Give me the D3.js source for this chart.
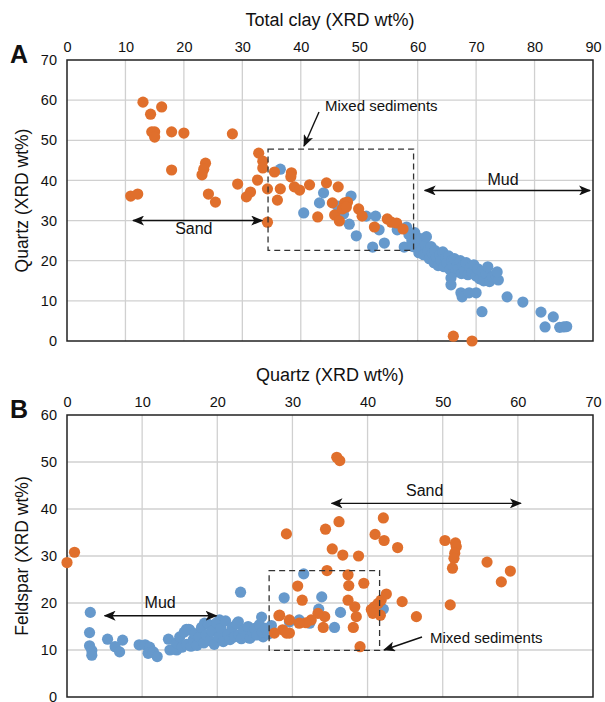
<!DOCTYPE html>
<html lang="en">
<head>
<meta charset="UTF-8">
<title>XRD crossplots</title>
<script src="https://d3js.org/d3.v7.min.js"></script>
<style>
  body { margin: 0; background: #fff; }
  svg { font-family: "Liberation Sans", Arial, sans-serif; }
</style>
</head>
<body>
<div id="chart"></div>
<script>
// Panel A: total clay (x) vs quartz (y)
const aTicksX = [0, 10, 20, 30, 40, 50, 60, 70, 80, 90];
const aTicksY = [0, 10, 20, 30, 40, 50, 60, 70];
const aOrange = [
  [13.0, 59.5], [16.2, 58.3], [14.3, 56.5], [14.5, 52.1], [15.0, 52.1], [15.0, 50.8],
  [17.9, 52.1], [20.0, 51.8], [28.3, 51.6], [17.9, 42.6], [23.7, 44.3], [23.4, 42.8],
  [23.1, 41.4], [24.2, 36.6], [25.4, 34.6], [10.9, 36.1], [12.1, 36.6], [32.8, 46.8],
  [33.5, 44.8], [33.5, 43.1], [32.6, 40.1], [29.2, 39.1], [31.4, 37.1], [30.7, 35.9],
  [34.3, 37.9], [35.5, 42.1], [36.5, 37.9], [36.0, 35.1], [34.3, 29.6], [38.4, 41.9],
  [38.3, 40.9], [38.9, 38.4], [39.8, 37.6], [41.5, 38.9], [44.4, 39.4], [46.4, 38.4],
  [42.9, 30.9], [45.4, 34.4], [45.8, 31.4], [46.6, 29.9], [47.5, 34.4], [48.0, 34.6],
  [47.1, 32.9], [47.8, 33.4], [49.9, 32.9], [50.5, 31.1], [52.6, 28.4], [54.8, 30.4],
  [55.5, 29.6], [56.4, 29.4], [57.5, 27.9], [66.1, 1.2], [69.3, 0.0]
];
const aBlue = [
  [36.5, 42.8], [40.5, 31.9], [43.9, 36.9], [43.2, 34.4], [46.3, 33.6], [47.3, 31.6],
  [48.6, 36.1], [48.3, 29.1], [49.5, 26.2], [51.2, 31.1], [52.8, 31.1], [53.4, 27.7],
  [52.3, 23.4], [54.3, 24.4], [56.5, 27.7], [58.1, 28.4], [57.7, 23.4],
  [58.5, 26.5], [59, 25], [59.2, 23.5], [59.5, 27], [60, 24.5], [60.2, 22], [60.5, 25.5],
  [60.8, 23], [61, 21.5], [61.3, 24], [61.5, 26], [61.8, 22.5], [62, 20.5], [62.3, 23.5],
  [62.5, 21.8], [62.8, 19.5], [63, 22.5], [63.2, 20.8], [63.5, 18.8], [63.8, 21.5],
  [64, 20], [64.3, 22.2], [64.5, 18.5], [64.8, 20.8], [65, 19.5], [65.3, 21.2],
  [65.5, 17.8], [65.8, 20], [66, 18.8], [66.3, 20.5], [66.5, 17.2], [66.8, 19.2],
  [67, 18], [67.3, 20], [67.5, 16.8], [67.8, 18.8], [68, 17.5], [68.3, 19.5],
  [68.6, 16.5], [69, 18.3], [69.3, 17], [69.6, 19], [70, 16.2], [70.3, 18], [70.6, 15.5],
  [71, 17.3], [71.3, 15], [71.7, 16.8], [72, 18.5], [72.3, 14.8], [72.8, 16], [73.3, 16.5],
  [73.8, 15.2], [65.7, 15.7], [65.7, 14.0], [67.4, 12.0], [67.6, 11.0], [68.8, 12.0],
  [70.0, 12.0], [71.0, 7.3], [73.6, 17.2], [75.3, 11.0], [78.0, 9.7], [81.1, 7.2],
  [81.8, 3.5], [83.2, 6.0], [84.3, 3.4], [85.0, 3.5], [85.5, 3.6]
];

// Panel B: quartz (x) vs feldspar (y)
const bTicksX = [0, 10, 20, 30, 40, 50, 60, 70];
const bTicksY = [0, 10, 20, 30, 40, 50, 60];
const bOrange = [
  [0.0, 28.6], [1.0, 30.8], [35.9, 51.0], [36.3, 50.3], [29.2, 34.7], [34.4, 35.7],
  [36.2, 37.3], [42.1, 38.1], [41.0, 34.6], [42.2, 33.3], [44.0, 31.8], [35.3, 31.5],
  [36.7, 30.2], [38.8, 30.0], [34.6, 26.9], [37.4, 26.0], [37.5, 23.7], [39.5, 24.2],
  [30.7, 23.6], [31.3, 20.6], [37.4, 20.6], [38.3, 19.2], [38.5, 17.1], [38.1, 14.8],
  [39.0, 10.7], [40.5, 18.6], [40.9, 19.2], [41.4, 19.9], [41.8, 20.6], [42.5, 21.9],
  [40.7, 17.8], [41.7, 17.4], [44.6, 20.3], [46.5, 17.1], [50.3, 33.3], [51.7, 32.8],
  [51.8, 32.0], [51.6, 30.6], [51.5, 29.5], [51.3, 27.4], [51.0, 19.6], [55.9, 28.7],
  [59.0, 26.8], [57.8, 24.5], [34.3, 17.1], [33.4, 17.8], [32.5, 16.4], [31.8, 15.8],
  [30.9, 15.7], [29.6, 16.4], [28.3, 17.4], [28.7, 14.3], [27.6, 13.6], [29.6, 13.6],
  [28.2, 17.3], [29.2, 13.6], [34.1, 14.8]
];
const bBlue = [
  [3.1, 18.0], [3.0, 13.7], [3.0, 10.9], [3.3, 9.9], [3.3, 8.9], [5.4, 12.3], [6.4, 10.7],
  [7.0, 9.6], [7.4, 12.1], [9.6, 11.1], [10.4, 11.1], [11.0, 10.6], [10.8, 9.3],
  [11.5, 9.6], [12.0, 8.6], [13.5, 12.3], [13.7, 10.0], [14.6, 10.0], [15.9, 14.4],
  [16.3, 14.3], [18.3, 15.7], [20.3, 16.4], [22.8, 16.0], [23.1, 22.3], [25.9, 17.0],
  [28.9, 21.1], [31.5, 26.2], [33.9, 21.3], [33.5, 18.7], [36.4, 18.0], [35.6, 14.8],
  [42.1, 18.7], [30.9, 16.4], [29.6, 16.0], [32.3, 15.7], [26.1, 12.8], [25.2, 13.6],
  [24.3, 12.5], [14.2, 10.2], [14.6, 11.5], [15, 12.8], [15.3, 10.6], [15.6, 13.8],
  [15.9, 11.2], [16.2, 14.4], [16.5, 10.8], [16.8, 12.2], [17, 13.5], [17.3, 11],
  [17.6, 12.8], [17.9, 14.8], [18.2, 11.5], [18.5, 13.2], [18.8, 15.5], [19, 12],
  [19.3, 14], [19.6, 11.2], [19.9, 15.8], [20.2, 12.8], [20.5, 14.6], [20.8, 11.8],
  [21.1, 16.2], [21.4, 13.4], [21.7, 12.2], [22, 14.8], [22.3, 12.8], [22.6, 15.6],
  [22.9, 13.2], [23.2, 12.4], [23.5, 14.2], [23.8, 13], [24.1, 15], [24.4, 12.6],
  [24.7, 13.8], [25, 14.6], [25.3, 13.2], [25.6, 15.4], [26, 13.8], [26.4, 14.6],
  [26.8, 13.4], [27.2, 15.2]
];

const ORANGE = "#e06f2c", BLUE = "#6699cc";

const svg = d3.select("#chart").append("svg")
  .attr("width", 605).attr("height", 702);

const defs = svg.append("defs");
defs.append("marker")
  .attr("id", "head")
  .attr("viewBox", "0 0 12 10")
  .attr("refX", 11).attr("refY", 5)
  .attr("markerWidth", 12).attr("markerHeight", 10)
  .attr("markerUnits", "userSpaceOnUse")
  .attr("orient", "auto-start-reverse")
  .append("path")
  .attr("d", "M0,0 L12,5 L0,10 L3,5 Z")
  .attr("fill", "#111");

function panel(cfg) {
  const x = d3.scaleLinear().domain(cfg.xDomain).range([67, 593]);
  const y = d3.scaleLinear().domain(cfg.yDomain).range([cfg.bottom, cfg.top]);
  const g = svg.append("g");

  // grid
  g.append("g").selectAll("line").data(cfg.ticksX.slice(1, -1)).join("line")
    .attr("x1", d => x(d)).attr("x2", d => x(d))
    .attr("y1", cfg.top).attr("y2", cfg.bottom)
    .attr("stroke", "#d0d0d0").attr("stroke-width", 1.3);
  g.append("g").selectAll("line").data(cfg.ticksY.slice(1, -1)).join("line")
    .attr("y1", d => y(d)).attr("y2", d => y(d))
    .attr("x1", 67).attr("x2", 593)
    .attr("stroke", "#d0d0d0").attr("stroke-width", 1.3);

  // axes (labels only, no tick marks)
  const top = g.append("g").attr("transform", `translate(0,${cfg.top})`)
    .call(d3.axisTop(x).tickValues(cfg.ticksX).tickSize(0).tickPadding(8));
  const left = g.append("g").attr("transform", "translate(67,0)")
    .call(d3.axisLeft(y).tickValues(cfg.ticksY).tickSize(0).tickPadding(10));
  [top, left].forEach(a => {
    a.select(".domain").remove();
    a.selectAll("text").attr("font-size", 14.5).attr("fill", "#111")
      .attr("font-family", "Liberation Sans, Arial, sans-serif");
  });

  // frame
  g.append("rect").attr("x", 67).attr("y", cfg.top)
    .attr("width", 526).attr("height", cfg.bottom - cfg.top)
    .attr("fill", "none").attr("stroke", "#222").attr("stroke-width", 1.5);

  // points
  g.append("g").selectAll("circle").data(cfg.blue).join("circle")
    .attr("cx", d => x(d[0])).attr("cy", d => y(d[1])).attr("r", 5.6)
    .attr("fill", BLUE);
  g.append("g").selectAll("circle").data(cfg.orange).join("circle")
    .attr("cx", d => x(d[0])).attr("cy", d => y(d[1])).attr("r", 5.6)
    .attr("fill", ORANGE);

  // titles
  g.append("text").attr("x", 330).attr("y", cfg.top - 34)
    .attr("text-anchor", "middle").attr("font-size", 18).attr("fill", "#111")
    .text(cfg.xTitle);
  g.append("text")
    .attr("transform", `translate(28,${(cfg.top + cfg.bottom) / 2}) rotate(-90)`)
    .attr("text-anchor", "middle").attr("font-size", 17.5).attr("fill", "#111")
    .text(cfg.yTitle);
  g.append("text").attr("x", 10).attr("y", cfg.top + 3)
    .attr("font-size", 25).attr("font-weight", "bold").attr("fill", "#111")
    .text(cfg.letter);

  // dashed "mixed sediments" box
  const b = cfg.box;
  g.append("rect").attr("x", x(b[0])).attr("y", y(b[3]))
    .attr("width", x(b[1]) - x(b[0])).attr("height", y(b[2]) - y(b[3]))
    .attr("fill", "none").attr("stroke", "#333").attr("stroke-width", 1.3)
    .attr("stroke-dasharray", "6,4");

  return { g, x, y };
}

function arrow(g, x1, y1, x2, y2, both) {
  const l = g.append("line").attr("x1", x1).attr("y1", y1).attr("x2", x2).attr("y2", y2)
    .attr("stroke", "#111").attr("stroke-width", 1.4)
    .attr("marker-end", "url(#head)");
  if (both) l.attr("marker-start", "url(#head)");
}
function label(g, x, y, t, size, anchor) {
  g.append("text").attr("x", x).attr("y", y).attr("text-anchor", anchor || "middle")
    .attr("font-size", size).attr("fill", "#111").text(t);
}

const A = panel({
  xDomain: [0, 90], yDomain: [0, 70], top: 60, bottom: 341,
  ticksX: aTicksX, ticksY: aTicksY, blue: aBlue, orange: aOrange,
  xTitle: "Total clay (XRD wt%)", yTitle: "Quartz (XRD wt%)", letter: "A",
  box: [34.4, 59.3, 22.6, 47.8]
});
arrow(A.g, A.x(11.3), A.y(30), A.x(33.4), A.y(30), true);
label(A.g, A.x(21.7), A.y(26.7), "Sand", 16);
arrow(A.g, A.x(61.2), A.y(37.5), A.x(89.5), A.y(37.5), true);
label(A.g, A.x(74.6), A.y(38.9), "Mud", 16);
arrow(A.g, 319, 112, 304, 146, false);
label(A.g, 325, 111, "Mixed sediments", 15, "start");

const B = panel({
  xDomain: [0, 70], yDomain: [0, 60], top: 415, bottom: 697,
  ticksX: bTicksX, ticksY: bTicksY, blue: bBlue, orange: bOrange,
  xTitle: "Quartz (XRD wt%)", yTitle: "Feldspar (XRD wt%)", letter: "B",
  box: [26.9, 41.6, 9.9, 26.9]
});
arrow(B.g, B.x(5.0), B.y(17.3), B.x(19.9), B.y(17.3), true);
label(B.g, B.x(12.4), B.y(18.9), "Mud", 16);
arrow(B.g, B.x(35.2), B.y(41.2), B.x(60.4), B.y(41.2), true);
label(B.g, B.x(47.6), B.y(42.8), "Sand", 16);
arrow(B.g, 422, 637, 384, 650, false);
label(B.g, 430, 643, "Mixed sediments", 15, "start");
</script>
</body>
</html>
